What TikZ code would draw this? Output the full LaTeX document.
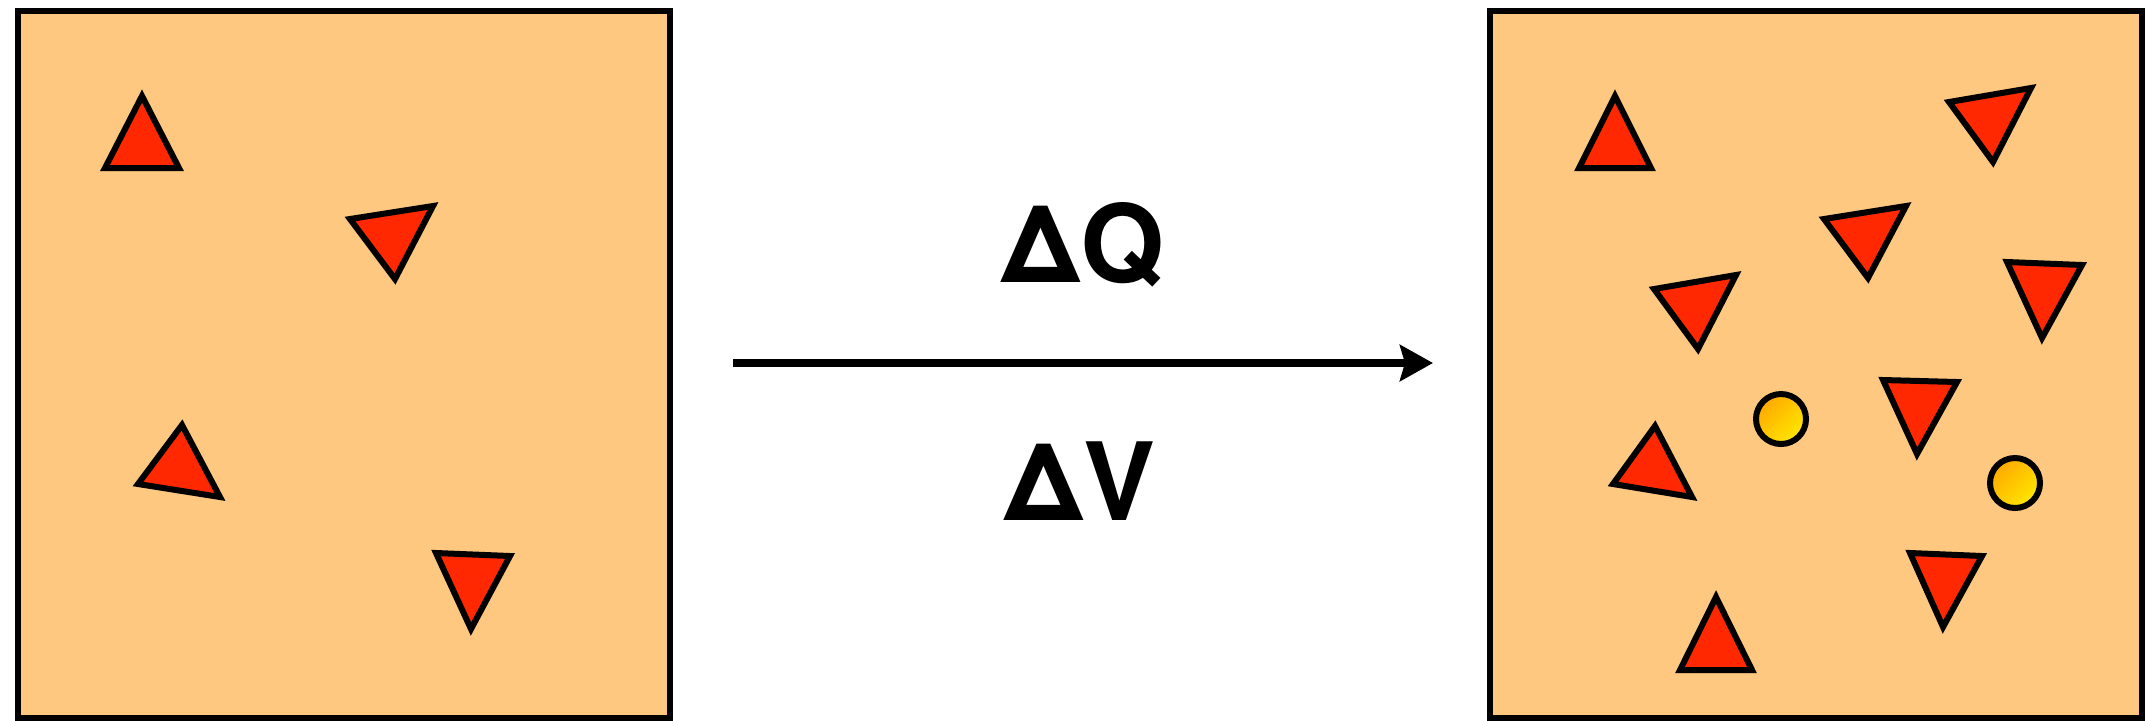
\documentclass[tikz,border=0pt]{standalone}
\usepackage{fontspec}
\setmainfont{TeX Gyre Heros}
\usetikzlibrary{arrows.meta}
\definecolor{boxfill}{RGB}{255,200,128}
\definecolor{trired}{RGB}{255,40,0}
\definecolor{circA}{RGB}{255,168,0}
\definecolor{circB}{RGB}{255,232,0}
\begin{document}
\begin{tikzpicture}[x=0.5pt,y=-0.5pt,
  chamber/.style={draw=black,line width=3pt,fill=boxfill},
  tri/.style={draw=black,line width=3pt,fill=trired,line join=miter},
  bubble/.style={draw=black,line width=3pt,top color=circA,bottom color=circB,shading angle=45},
  lbl/.style={font=\bfseries\fontsize{54}{60}\selectfont,inner sep=0pt,anchor=base},
  flow/.style={line width=3.8pt,-{Stealth[length=16.5pt,width=18pt,inset=2.5pt]}}]
\useasboundingbox (0,0) rectangle (2145,720);
% chambers
\draw[chamber] (18,11) rectangle (670,718);
\draw[chamber] (1490,11) rectangle (2142,718);
% left triangles
\draw[tri] (142,96) -- (105,168) -- (179,168) -- cycle;
\draw[tri] (350,219) -- (433,206) -- (395,279) -- cycle;
\draw[tri] (182,425) -- (138,484) -- (220,497) -- cycle;
\draw[tri] (436,553) -- (510,556) -- (471,629) -- cycle;
% right triangles
\draw[tri] (1615,96) -- (1579,168) -- (1651,168) -- cycle;
\draw[tri] (1949,102) -- (2031,88) -- (1993,162) -- cycle;
\draw[tri] (1824,219) -- (1906,206) -- (1868,278) -- cycle;
\draw[tri] (2007,262) -- (2082,265) -- (2042,338) -- cycle;
\draw[tri] (1654,289) -- (1736,275) -- (1698,349) -- cycle;
\draw[tri] (1883,380) -- (1957,382) -- (1917,454) -- cycle;
\draw[tri] (1655,426) -- (1613,484) -- (1692,497) -- cycle;
\draw[tri] (1910,553) -- (1982,556) -- (1943,627) -- cycle;
\draw[tri] (1716,597) -- (1680,670) -- (1752,670) -- cycle;
% bubbles
\shade[bubble] (1781,419) circle[radius=25];
\shade[bubble] (2015,483) circle[radius=25];
% arrow and labels
\coordinate (start) at (733,363);
\coordinate (end) at (1433,363);
\draw[flow] (start) -- (end);
\node[lbl] (dq) at (1083,282) {ΔQ};
\node[lbl] (dv) at (1080,520.5) {ΔV};
\end{tikzpicture}
\end{document}
